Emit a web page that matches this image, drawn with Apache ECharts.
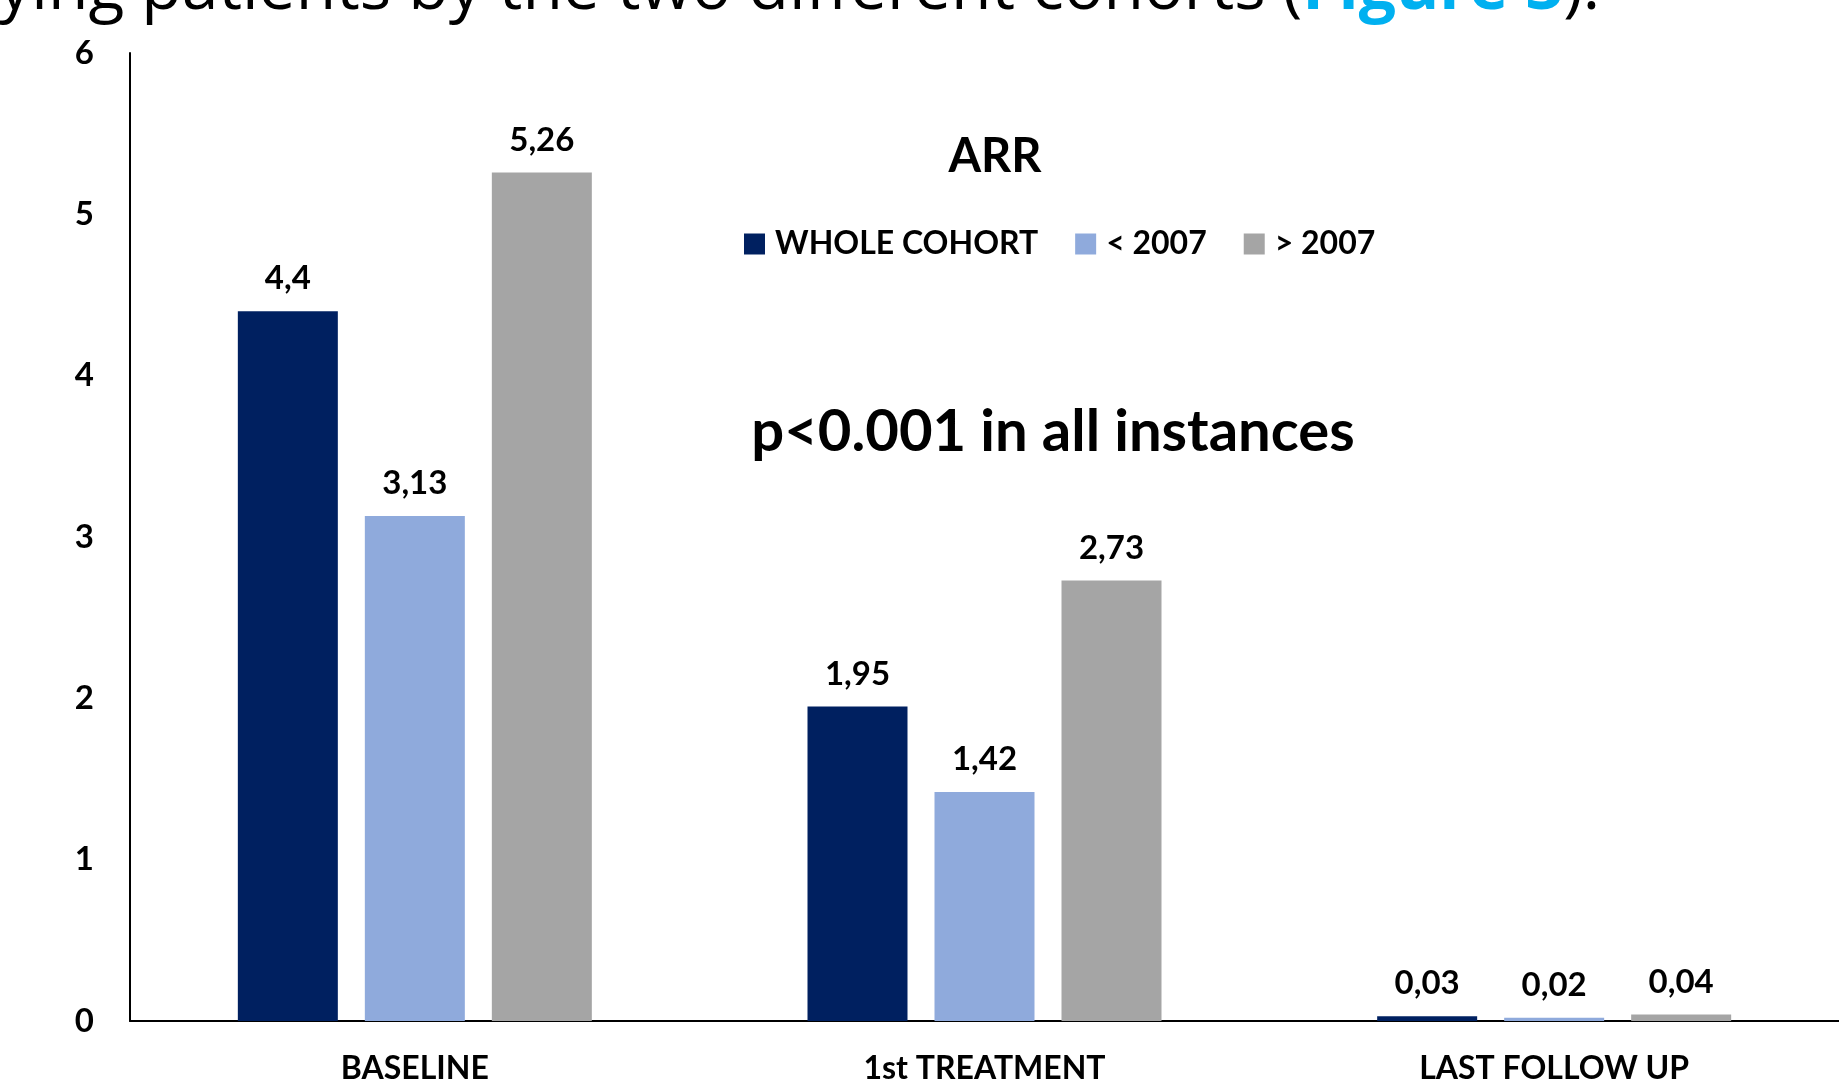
<!DOCTYPE html>
<html>
<head>
<meta charset="utf-8">
<title>ARR</title>
<script src="https://cdn.jsdelivr.net/npm/echarts@6/dist/echarts.min.js"></script>
<style>
  html, body { margin: 0; padding: 0; background: #ffffff; }
  #chart { width: 1839px; height: 1088px; }
</style>
</head>
<body>
<div id="chart"></div>
<script>
// Annualized relapse rate by time point and cohort
const categories = ['BASELINE', '1st TREATMENT', 'LAST FOLLOW UP'];
const seriesNames = ['WHOLE COHORT', '< 2007', '> 2007'];
const wholeCohort = [4.4, 1.95, 0.03];
const before2007 = [3.13, 1.42, 0.02];
const after2007 = [5.26, 2.73, 0.04];
const yTicks = [0, 1, 2, 3, 4, 5, 6];

const colors = ['#002060', '#8FAADC', '#A5A5A5'];
const FONT = 'Lato, "Open Sans", sans-serif';

const chart = echarts.init(document.getElementById('chart'));

function barSeries(name, values, color) {
  return {
    name: name,
    type: 'bar',
    data: values,
    barWidth: 100,
    barGap: '27%',
    itemStyle: { color: color },
    label: {
      show: true,
      position: 'top',
      distance: 16,
      color: '#000',
      fontFamily: FONT,
      fontWeight: 'bold',
      fontSize: 33,
      formatter: p => String(p.value).replace('.', ',')
    }
  };
}

chart.setOption({
  animation: false,
  backgroundColor: '#ffffff',
  title: {
    text: 'ARR',
    left: 990,
    top: 128,
    textAlign: 'center',
    textStyle: { fontFamily: FONT, fontWeight: 'bold', fontSize: 47, color: '#000' }
  },
  legend: {
    data: seriesNames,
    left: 739,
    top: 223,
    icon: 'rect',
    itemWidth: 21,
    itemHeight: 21,
    itemGap: 37,
    textStyle: {
      fontFamily: FONT, fontWeight: 'bold', fontSize: 32, color: '#000',
      padding: [0, 0, 0, 5]
    }
  },
  grid: { left: 130, right: 0, top: 53, bottom: 67, containLabel: false },
  xAxis: {
    type: 'category',
    data: categories,
    axisLine: { show: true, lineStyle: { color: '#000', width: 2 } },
    axisTick: { show: false },
    axisLabel: {
      margin: 32,
      color: '#000',
      fontFamily: FONT,
      fontWeight: 'bold',
      fontSize: 32
    }
  },
  yAxis: {
    type: 'value',
    min: yTicks[0],
    max: yTicks[yTicks.length - 1],
    interval: 1,
    axisLine: { show: true, lineStyle: { color: '#000', width: 2 } },
    axisTick: { show: false },
    splitLine: { show: false },
    axisLabel: {
      margin: 36,
      color: '#000',
      fontFamily: FONT,
      fontWeight: 'bold',
      fontSize: 33
    }
  },
  graphic: [
    {
      type: 'text',
      style: {
        x: 1053,
        y: 432,
        text: 'p<0.001 in all instances',
        align: 'center',
        verticalAlign: 'middle',
        font: 'bold 58px ' + FONT,
        fill: '#000'
      }
    },
    {
      type: 'text',
      style: {
        x: 1600,
        y: 23,
        text: 'ying patients by the two different cohorts ({fig|Figure 3}).',
        align: 'right',
        verticalAlign: 'bottom',
        font: '66px "Open Sans", sans-serif',
        fill: '#000',
        rich: {
          fig: { font: 'bold 66px "Open Sans", sans-serif', fill: '#00B0F0' }
        }
      }
    }
  ],
  series: [
    barSeries(seriesNames[0], wholeCohort, colors[0]),
    barSeries(seriesNames[1], before2007, colors[1]),
    barSeries(seriesNames[2], after2007, colors[2])
  ]
});
</script>
</body>
</html>
